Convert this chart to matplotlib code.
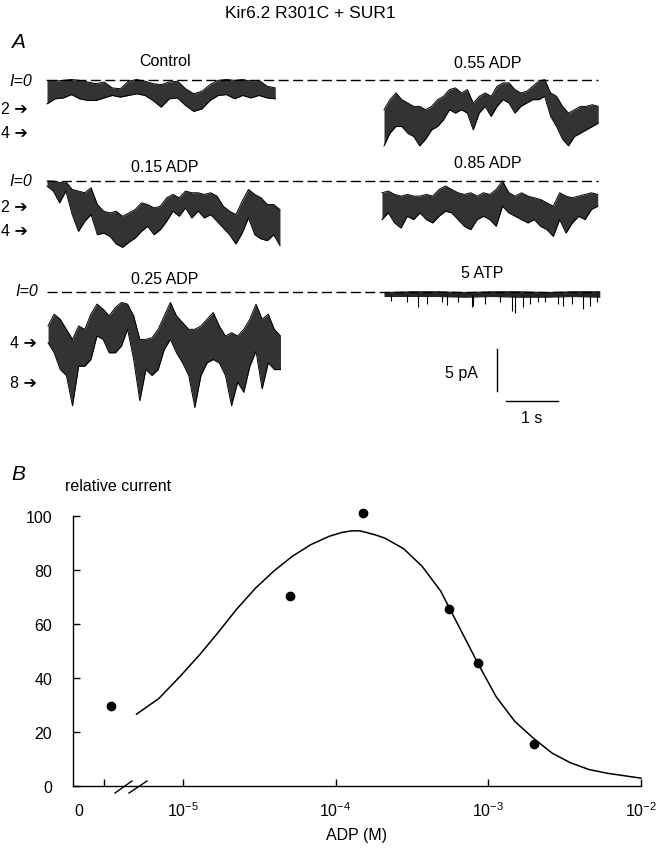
import matplotlib
matplotlib.use("Agg")
import matplotlib.pyplot as plt
from matplotlib.lines import Line2D
from matplotlib.transforms import blended_transform_factory
import numpy as np

plt.rcParams["font.family"] = ["Liberation Sans", "DejaVu Sans"]
plt.rcParams["mathtext.fontset"] = "custom"
plt.rcParams["mathtext.rm"] = "Liberation Sans"
plt.rcParams["mathtext.it"] = "Liberation Sans:italic"

# ---------------- Panel A data: single-channel traces ----------------
# upper / lower envelope of each trace, in pA below the I=0 level
control_top = [0.1, 0.2, 0.1, 0.0, 0.1, 0.3, 0.5, 0.3, 1.0, 1.1, 0.2, 0.0, 0.2, 0.5, 0.6,
               0.3, 0.2, 1.1, 1.7, 1.4, 0.6, 0.1, 0.0, 0.1, 0.0, 0.2, 0.1, 0.8, 1.0]
control_bottom = [2.9, 2.3, 2.2, 1.8, 2.3, 2.5, 2.5, 2.2, 1.9, 2.1, 1.9, 1.7, 1.9, 2.5, 3.3,
                  2.3, 2.2, 3.1, 3.8, 3.5, 2.5, 1.9, 1.8, 2.3, 1.9, 2.2, 1.9, 2.2, 2.3]

adp015_top = [0.0, 0.0, 0.2, 0.1, 1.0, 1.2, 1.4, 0.8, 2.8, 3.6, 3.8, 3.6, 4.2, 3.8, 3.4,
              2.6, 2.8, 3.2, 3.0, 2.0, 1.6, 2.0, 1.2, 1.4, 1.4, 1.6, 1.4, 1.8, 3.0, 3.6,
              4.0, 2.4, 1.0, 1.6, 2.0, 2.8, 2.8, 3.4]
adp015_bottom = [0.6, 1.2, 2.6, 1.2, 4.0, 6.0, 4.8, 4.0, 6.4, 6.2, 6.6, 7.5, 7.9, 7.3, 6.8,
                 6.0, 5.4, 6.4, 5.8, 4.8, 3.6, 4.2, 3.2, 4.4, 3.6, 4.4, 4.0, 4.8, 5.6, 6.4,
                 7.5, 6.2, 4.4, 6.4, 6.9, 7.1, 6.4, 7.7]

adp025_top = [4.1, 2.7, 3.3, 4.5, 5.7, 4.1, 4.5, 2.7, 1.5, 2.1, 2.9, 1.9, 1.3, 1.5, 2.9,
              5.7, 5.7, 5.5, 4.5, 2.9, 1.3, 2.9, 3.7, 4.5, 4.5, 4.1, 3.3, 2.5, 4.1, 5.3,
              4.9, 5.3, 4.5, 3.3, 1.5, 3.3, 2.7, 4.5, 5.3]
adp025_bottom = [6.1, 7.3, 9.3, 10.0, 13.6, 8.9, 8.9, 8.1, 5.3, 5.7, 7.3, 7.3, 6.5, 4.5, 8.1,
                 13.0, 9.3, 10.0, 9.3, 6.9, 5.7, 7.3, 8.5, 10.0, 13.8, 10.0, 8.5, 8.1, 8.5, 10.0,
                 13.6, 10.8, 12.0, 8.9, 7.1, 11.6, 8.5, 9.3, 9.3]

adp055_top = [3.6, 2.4, 1.6, 2.4, 2.8, 3.2, 3.2, 3.6, 3.2, 2.4, 2.0, 1.2, 1.0, 1.6, 1.2,
              2.8, 2.0, 1.6, 2.0, 0.8, 0.4, 0.4, 1.2, 1.6, 1.4, 0.8, 0.2, 0.0, 1.6, 2.0,
              3.2, 4.0, 3.6, 3.2, 3.2, 3.0, 3.2]
adp055_bottom = [7.9, 6.4, 5.6, 5.6, 6.4, 6.8, 7.9, 7.1, 6.0, 5.6, 4.8, 3.6, 4.0, 3.6, 4.0,
                 6.0, 4.0, 3.2, 4.4, 3.2, 2.4, 2.8, 4.0, 3.2, 2.8, 2.4, 2.4, 2.0, 4.4, 5.6,
                 7.1, 7.9, 6.8, 6.4, 6.0, 5.6, 5.2]

adp085_top = [1.4, 1.2, 1.6, 1.8, 1.6, 1.8, 1.8, 1.6, 1.8, 1.0, 0.6, 1.0, 1.4, 1.6, 1.4,
              1.8, 1.4, 1.6, 1.0, 0.0, 1.4, 1.8, 1.4, 1.8, 2.0, 2.2, 2.6, 3.0, 1.4, 1.8,
              2.0, 1.8, 1.6, 1.4, 1.6]
adp085_bottom = [4.6, 3.8, 5.0, 5.6, 4.2, 4.6, 3.8, 4.6, 5.0, 4.2, 3.6, 3.8, 4.6, 5.4, 5.8,
                 4.6, 4.2, 4.6, 5.4, 3.0, 3.8, 4.2, 4.6, 5.0, 4.6, 5.4, 5.8, 6.6, 4.6, 6.2,
                 5.0, 4.2, 4.6, 3.4, 3.0]

atp_top = [0.0, -0.1, -0.1, 0.0, -0.1, -0.1, 0.0, -0.1, -0.1]
atp_bottom = [0.6, 0.6, 0.6, 0.7, 0.6, 0.7, 0.7, 0.6, 0.7]
atp_spike_t = [0.13, 0.44, 0.66, 0.82, 1.11, 1.21, 1.43, 1.69, 1.72, 1.94, 2.23, 2.46,
               2.52, 2.68, 2.81, 2.97, 3.10, 3.35, 3.45, 3.61, 3.83, 3.96, 4.09]
atp_spike_depth = [1.1, 1.3, 1.9, 1.5, 1.3, 1.6, 1.3, 1.9, 1.7, 1.5, 1.3, 2.3,
                   2.5, 1.9, 1.5, 1.3, 1.3, 1.5, 1.7, 1.5, 2.1, 1.7, 1.3]

# ---------------- Panel B data: dose response ----------------
adp_conc = [0, 5.0e-5, 1.5e-4, 5.5e-4, 8.5e-4, 2.0e-3]     # M
rel_current = [29.7, 70.4, 101.0, 65.5, 45.4, 15.6]
fit_log_adp = [-5.304, -5.158, -5.012, -4.891, -4.769, -4.648, -4.526, -4.405, -4.283,
               -4.162, -4.041, -3.960, -3.895, -3.840, -3.798, -3.740, -3.677, -3.555,
               -3.434, -3.312, -3.190, -3.069, -2.948, -2.826, -2.705, -2.583, -2.462,
               -2.340, -2.219, -2.097, -2.0]
fit_current = [26.6, 32.4, 41.0, 48.6, 56.9, 65.5, 73.2, 79.6, 85.1,
               89.4, 92.5, 93.9, 94.5, 94.5, 93.9, 93.0, 91.8, 87.9,
               81.4, 72.2, 58.8, 45.5, 33.0, 23.9, 17.7, 12.2, 8.6,
               6.1, 4.7, 3.7, 2.9]

# ---------------- layout helpers (pixel coords of the 660x853 figure) ----------------
W, H = 660, 853
PX_PER_S = 52.0
PX_PER_PA = 8.4
X0_PX, ROW1_PX = 47.0, 80.5


def box(x0, y0, x1, y1):
    return [x0 / W, 1 - y1 / H, (x1 - x0) / W, (y1 - y0) / H]


def ftext(x, y, s, **kw):
    kw.setdefault("fontsize", 11.5)
    kw.setdefault("ha", "center")
    kw.setdefault("va", "center")
    fig.text(x / W, 1 - y / H, s, **kw)


fig = plt.figure(figsize=(W / 100, H / 100), dpi=100)

# ---------------- Panel A ----------------
ax_a = fig.add_axes(box(0, 30, 660, 430))
ax_a.set_xlim(-X0_PX / PX_PER_S, (W - X0_PX) / PX_PER_S)
ax_a.set_ylim(-(430 - ROW1_PX) / PX_PER_PA, (ROW1_PX - 30) / PX_PER_PA)
ax_a.axis("off")

row_off = [0.0, -(182 - ROW1_PX) / PX_PER_PA, -(292.5 - ROW1_PX) / PX_PER_PA]
right_t0 = (384 - X0_PX) / PX_PER_S

traces = [
    (control_top, control_bottom, 0.0, 4.39, row_off[0]),
    (adp015_top, adp015_bottom, 0.0, 4.48, row_off[1]),
    (adp025_top, adp025_bottom, 0.02, 4.47, row_off[2]),
    (adp055_top, adp055_bottom, right_t0, 4.12, row_off[0]),
    (adp085_top, adp085_bottom, right_t0 - 0.04, 4.15, row_off[1]),
]

# zero-current dashed lines
dash_end = (598 - X0_PX) / PX_PER_S
for off in row_off:
    ax_a.plot([0, dash_end], [off, off], color="k", lw=1.0, ls=(0, (7.2, 3.2)))

for top, bot, t0, dur, off in traces:
    top = np.array(top)
    bot = np.array(bot)
    t = t0 + np.linspace(0, dur, len(top))
    ax_a.fill_between(t, off - top, off - bot, color="0.2", lw=0)
    ax_a.plot(t, off - top, color="k", lw=0.7)
    ax_a.plot(t, off - bot, color="k", lw=0.7)

# 5 ATP trace: thin band plus brief openings
t_atp = right_t0 + np.linspace(0, 4.15, len(atp_top))
ax_a.fill_between(t_atp, row_off[2] - np.array(atp_top), row_off[2] - np.array(atp_bottom),
                  color="0.15", lw=0)
ax_a.vlines(right_t0 + np.array(atp_spike_t), row_off[2] - 0.4,
            row_off[2] - np.array(atp_spike_depth), color="k", lw=0.8)

# scale bars
sb_t = (497 - X0_PX) / PX_PER_S
sb_top = -(350 - ROW1_PX) / PX_PER_PA
ax_a.plot([sb_t, sb_t], [sb_top, sb_top - 5], color="k", lw=1.0)
hb_t = (506 - X0_PX) / PX_PER_S
hb_y = -(402 - ROW1_PX) / PX_PER_PA
ax_a.plot([hb_t, hb_t + 1], [hb_y, hb_y], color="k", lw=1.0)

ftext(310, 13, "Kir6.2 R301C + SUR1", fontsize=12.5)
ftext(18, 43, "A", fontsize=15, style="italic")
ftext(165, 62, "Control")
ftext(488, 63, "0.55 ADP")
ftext(165, 167, "0.15 ADP")
ftext(488, 163, "0.85 ADP")
ftext(165, 280, "0.25 ADP")
ftext(482, 273, "5 ATP")
for x, y in [(32, 81), (32, 182), (38, 292)]:
    ftext(x, y, "I=0", ha="right", style="italic")
for x, y, s in [(28, 109, "2"), (28, 133, "4"), (28, 208, "2"), (28, 231, "4"),
                (37, 343, "4"), (37, 384, "8")]:
    ftext(x, y, s + " \u2794", ha="right")
ftext(461, 374, "5 pA")
ftext(532, 419, "1 s")

# ---------------- Panel B ----------------
LOG_LEFT = -5.72
ZERO_TICK = 10 ** -5.52
ZERO_POS = 10 ** -5.47

ax_b = fig.add_axes(box(73, 517, 641, 787))
ax_b.set_xscale("log")
ax_b.set_xlim(10 ** LOG_LEFT, 1e-2)
ax_b.set_ylim(0, 100)
for side in ["top", "right"]:
    ax_b.spines[side].set_visible(False)
for side in ["left", "bottom"]:
    ax_b.spines[side].set_linewidth(1.0)

ax_b.plot(10 ** np.array(fit_log_adp), fit_current, color="k", lw=1.1, clip_on=False)
x_pts = [ZERO_POS if c == 0 else c for c in adp_conc]
ax_b.plot(x_pts, rel_current, "o", color="k", ms=6, clip_on=False)

ax_b.set_yticks([0, 20, 40, 60, 80, 100])
ax_b.set_xticks([ZERO_TICK, 1e-5, 1e-4, 1e-3, 1e-2])
ax_b.set_xticklabels(["", "$10^{-5}$", "$10^{-4}$", "$10^{-3}$", "$10^{-2}$"])
ax_b.xaxis.set_minor_locator(matplotlib.ticker.NullLocator())
ax_b.tick_params(direction="in", length=5, width=1.0, labelsize=11.5)
ax_b.tick_params(axis="y", pad=15)
ax_b.tick_params(axis="x", pad=10)
ax_b.set_xlabel("ADP (M)", fontsize=11.5, labelpad=6)

trans = blended_transform_factory(ax_b.transData, ax_b.transAxes)
ax_b.text(10 ** -5.685, -0.092, "0", transform=trans, ha="center", va="center", fontsize=11.5)

# axis break marks
for xa, xb in [(115, 132), (129, 147)]:
    fig.add_artist(Line2D([xa / W, xb / W], [1 - 794 / H, 1 - 782 / H], color="k", lw=1.0))

ftext(18, 475, "B", fontsize=15, style="italic")
ftext(65, 487, "relative current", ha="left")

fig.savefig("out.png", dpi=100)
